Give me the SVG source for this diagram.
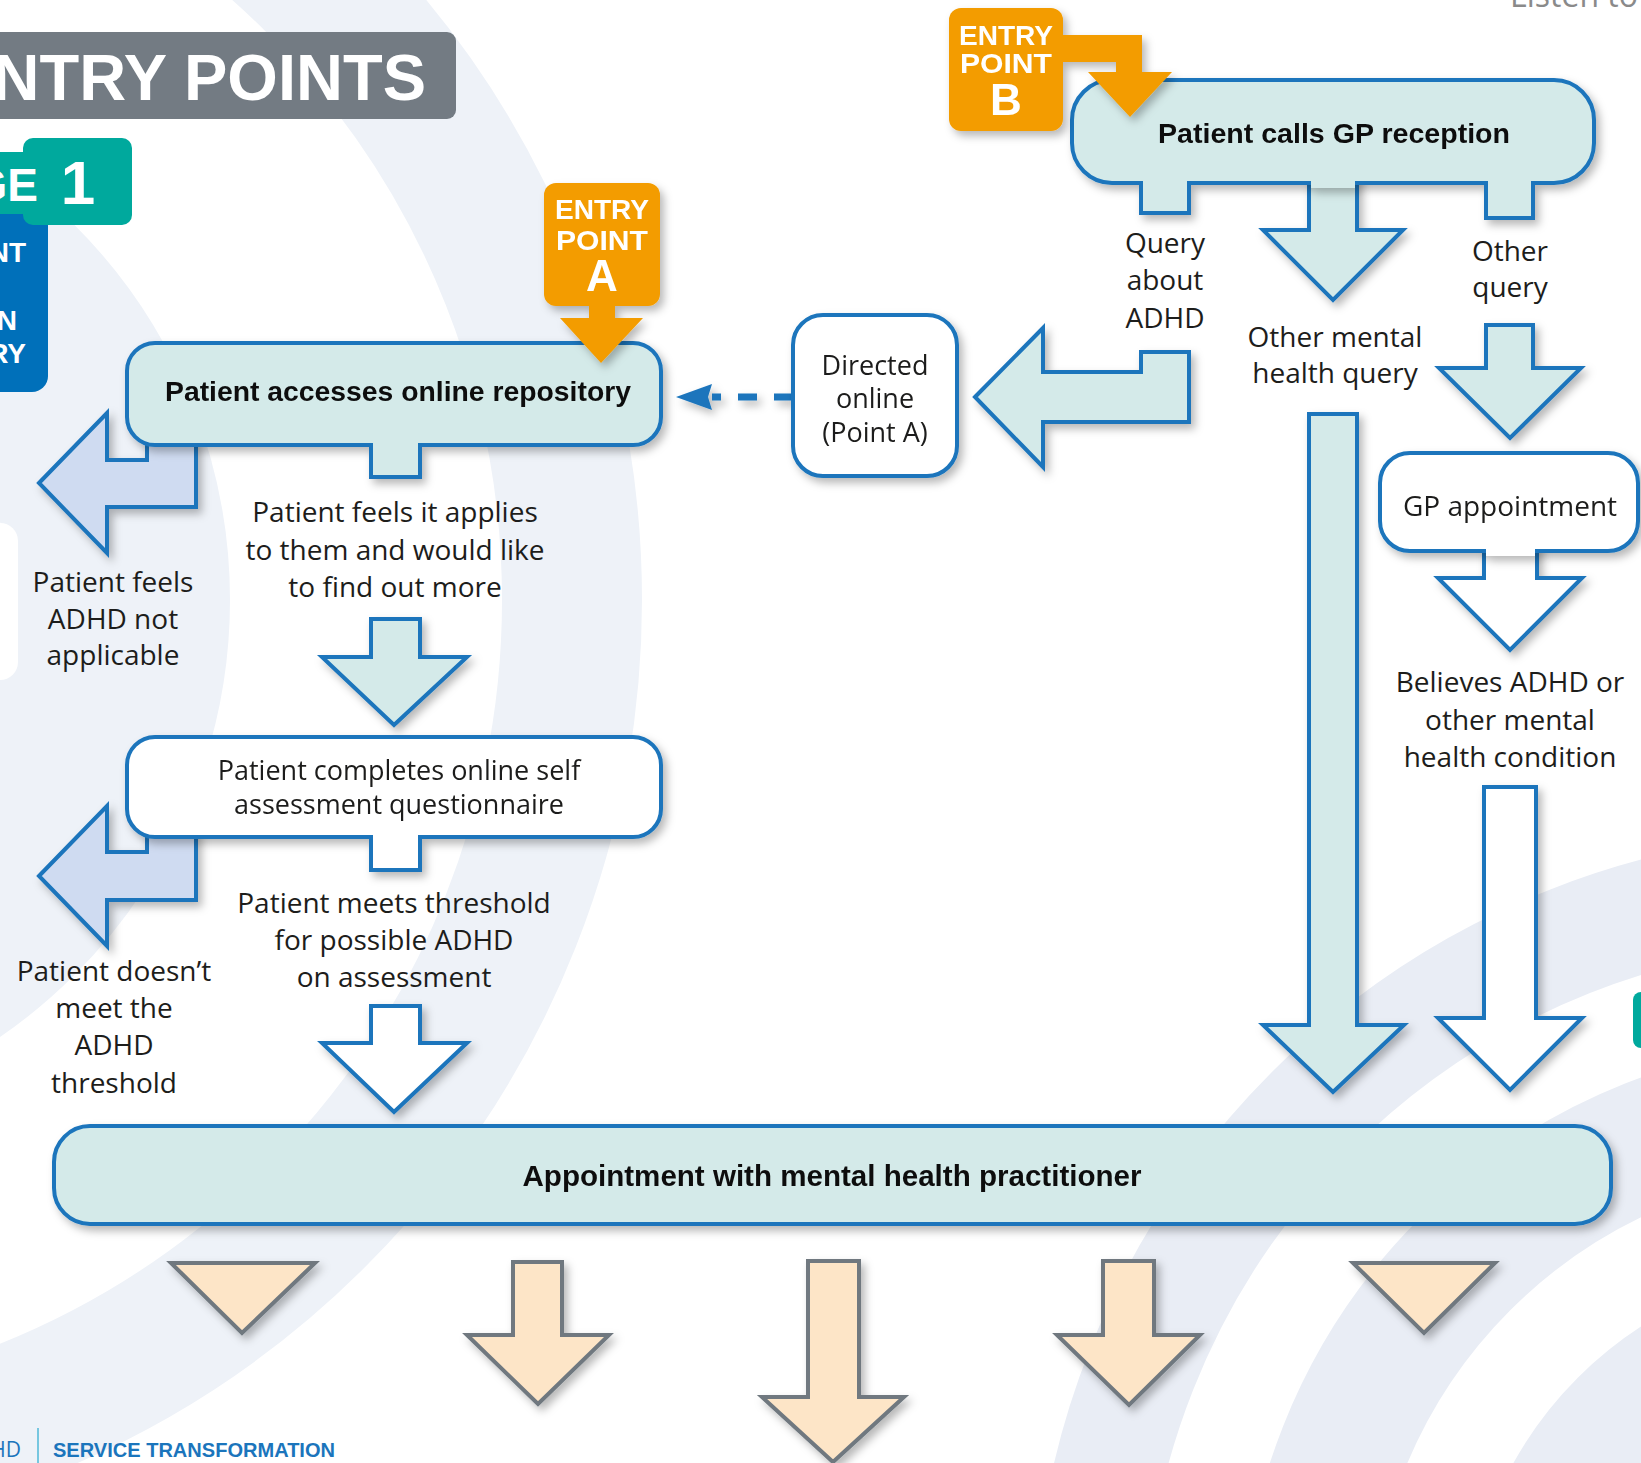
<svg xmlns="http://www.w3.org/2000/svg" width="1641" height="1463" viewBox="0 0 1641 1463">
<defs>
<filter id="sh" x="-20%" y="-20%" width="150%" height="150%">
<feDropShadow dx="4" dy="5" stdDeviation="4" flood-color="#000" flood-opacity="0.28"/>
</filter>
<style>
.lbl{font-family:"Open Sans","Liberation Sans",sans-serif;font-size:28px;fill:#1d1d1b;text-anchor:middle}
.hd{font-family:"Liberation Sans",Arial,sans-serif;font-weight:bold;font-size:28px;fill:#111;text-anchor:middle}
.bdg{font-family:"Liberation Sans",Arial,sans-serif;font-weight:bold;fill:#fff;text-anchor:middle}
.tealbox{fill:#d4eae9;stroke:#1b75bc;stroke-width:4}
.whitebox{fill:#fff;stroke:#1b75bc;stroke-width:4}
.teal{fill:#d4eae9}
.wht{fill:#fff}
.edge{fill:none;stroke:#1b75bc;stroke-width:4;stroke-linejoin:miter}
.arT{fill:#d4eae9;stroke:#1b75bc;stroke-width:4;stroke-linejoin:miter}
.arW{fill:#fff;stroke:#1b75bc;stroke-width:4;stroke-linejoin:miter}
.arL{fill:#cfdbf1;stroke:#1b75bc;stroke-width:4;stroke-linejoin:miter}
.arO{fill:#fde5c7;stroke:#6f787f;stroke-width:4;stroke-linejoin:miter}
.orange{fill:#f39c00}
</style>
</defs>
<rect width="1641" height="1463" fill="#fff"/>
<g id="background" fill="none">
<circle cx="-300" cy="600" r="872" stroke="#eef2f8" stroke-width="140"/>
<circle cx="-300" cy="600" r="420" stroke="#eef2f8" stroke-width="220"/>
<circle cx="1850" cy="1650" r="762" stroke="#e9edf5" stroke-width="111"/>
<circle cx="1850" cy="1650" r="545" stroke="#e9edf5" stroke-width="129"/>
<circle cx="1850" cy="1650" r="330" stroke="#e9edf5" stroke-width="110"/>
<rect x="-40" y="523" width="58" height="157" rx="18" fill="#fff"/>
</g>

<g id="page-header">
<rect x="-20" y="32" width="476" height="87" rx="9" fill="#737b83"/>
<text x="426" y="100" style="font-family:'Liberation Sans',Arial,sans-serif;font-weight:bold;font-size:65px;fill:#fff;text-anchor:end">ENTRY POINTS</text>
<rect x="-20" y="200" width="68" height="192" rx="16" fill="#0070ba"/>
<text x="26" y="262" class="bdg" style="font-size:28px;text-anchor:end">NT</text>
<text x="17" y="330" class="bdg" style="font-size:28px;text-anchor:end">N</text>
<text x="26" y="363" class="bdg" style="font-size:28px;text-anchor:end">RY</text>
<rect x="-20" y="152" width="60" height="62" fill="#00a99d"/>
<rect x="23" y="138" width="109" height="87" rx="10" fill="#00a99d"/>
<text x="38" y="201" class="bdg" style="font-size:46px;text-anchor:end">GE</text>
<text x="78" y="204" class="bdg" style="font-size:62px">1</text>
<text x="1510" y="7" style="font-family:'Open Sans',sans-serif;font-size:32px;fill:#8a8a8a">Listen to</text>
<rect x="1633" y="992" width="30" height="56" rx="8" fill="#00a99d"/>
</g>

<g id="connectors" filter="url(#sh)">
<polygon class="arL" points="39,483 107,413 107,460 147,460 147,440 196,440 196,507 107,507 107,553"/>
<polygon class="arL" points="39,876 107,806 107,852 147,852 147,832 196,832 196,900 107,900 107,946"/>
<polygon class="arT" points="371,619 420,619 420,657 467,657 394,725 322,657 371,657"/>
<polygon class="arW" points="371,1006 420,1006 420,1043 467,1043 394,1112 322,1043 371,1043"/>
<polygon class="arT" points="975,397 1043,328 1043,372 1141,372 1141,352 1189,352 1189,422 1043,422 1043,467"/>
<path d="M793,397 H712" fill="none" stroke="#1b75bc" stroke-width="7" stroke-dasharray="19 17"/>
<polygon points="676,397 712,384 708,397 712,410" fill="#1b75bc"/>
<polygon class="arT" points="1309,170 1357,170 1357,230 1403,230 1333,300 1263,230 1309,230"/>
<polygon class="arT" points="1486,325 1533,325 1533,368 1581,368 1510,438 1439,368 1486,368"/>
<polygon class="arT" points="1309,414 1357,414 1357,1025 1404,1025 1333,1092 1263,1025 1309,1025"/>
<polygon class="arW" points="1484,530 1537,530 1537,578 1582,578 1510,650 1438,578 1484,578"/>
<polygon class="arW" points="1484,787 1536,787 1536,1018 1582,1018 1510,1090 1438,1018 1484,1018"/>
<polygon class="arO" points="171,1263 315,1263 242,1333"/>
<polygon class="arO" points="513,1262 562,1262 562,1335 609,1335 538,1404 467,1335 513,1335"/>
<polygon class="arO" points="808,1261 859,1261 859,1397 904,1397 833,1462 762,1397 808,1397"/>
<polygon class="arO" points="1103,1261 1154,1261 1154,1335 1200,1335 1129,1405 1057,1335 1103,1335"/>
<polygon class="arO" points="1353,1263 1495,1263 1424,1333"/>
</g>

<g id="labels">
<text class="lbl"><tspan x="113" y="592">Patient feels</tspan><tspan x="113" y="629">ADHD not</tspan><tspan x="113" y="665">applicable</tspan></text>
<text class="lbl"><tspan x="395" y="522">Patient feels it applies</tspan><tspan x="395" y="560">to them and would like</tspan><tspan x="395" y="597">to find out more</tspan></text>
<text class="lbl"><tspan x="114" y="981">Patient doesn’t</tspan><tspan x="114" y="1018">meet the</tspan><tspan x="114" y="1055">ADHD</tspan><tspan x="114" y="1093">threshold</tspan></text>
<text class="lbl"><tspan x="394" y="913">Patient meets threshold</tspan><tspan x="394" y="950">for possible ADHD</tspan><tspan x="394" y="987">on assessment</tspan></text>
<text class="lbl"><tspan x="1165" y="253">Query</tspan><tspan x="1165" y="290">about</tspan><tspan x="1165" y="328">ADHD</tspan></text>
<text class="lbl"><tspan x="1510" y="261">Other</tspan><tspan x="1510" y="297">query</tspan></text>
<text class="lbl"><tspan x="1335" y="347">Other mental</tspan><tspan x="1335" y="383">health query</tspan></text>
<text class="lbl"><tspan x="1510" y="692">Believes ADHD or</tspan><tspan x="1510" y="730">other mental</tspan><tspan x="1510" y="767">health condition</tspan></text>
</g>

<g id="node-repository" filter="url(#sh)">
<rect class="tealbox" x="127" y="343" width="534" height="102" rx="28"/>
<rect class="teal" x="373" y="441" width="45" height="34"/>
<path class="edge" d="M371,443 V477 H420 V443"/>
<text class="hd" x="398" y="401" textLength="466" lengthAdjust="spacingAndGlyphs">Patient accesses online repository</text>
</g>

<g id="node-self-assessment" filter="url(#sh)">
<rect class="whitebox" x="127" y="737" width="534" height="100" rx="28"/>
<rect class="wht" x="373" y="833" width="45" height="35"/>
<path class="edge" d="M371,835 V870 H420 V835"/>
<text class="lbl" style="font-size:27px"><tspan x="399" y="780">Patient completes online self</tspan><tspan x="399" y="814">assessment questionnaire</tspan></text>
</g>

<g id="node-directed-online" filter="url(#sh)">
<rect class="whitebox" x="793" y="315" width="164" height="161" rx="30"/>
<text class="lbl" style="font-size:27px"><tspan x="875" y="375">Directed</tspan><tspan x="875" y="408">online</tspan><tspan x="875" y="442">(Point A)</tspan></text>
</g>

<g id="node-gp-reception" filter="url(#sh)">
<rect class="tealbox" x="1072" y="80" width="522" height="103" rx="40"/>
<rect class="teal" x="1143" y="179" width="44" height="32"/>
<path class="edge" d="M1141,181 V213 H1189 V181"/>
<rect class="teal" x="1488" y="179" width="43" height="37"/>
<path class="edge" d="M1486,181 V218 H1533 V181"/>
<rect class="teal" x="1311" y="178" width="44" height="10"/>
<text class="hd" x="1334" y="143" textLength="352" lengthAdjust="spacingAndGlyphs">Patient calls GP reception</text>
</g>

<g id="node-gp-appointment" filter="url(#sh)">
<rect class="whitebox" x="1380" y="453" width="258" height="98" rx="30"/>
<rect class="wht" x="1486" y="546" width="49" height="10"/>
<text class="lbl" x="1510" y="516">GP appointment</text>
</g>

<g id="node-appointment-mhp" filter="url(#sh)">
<rect class="tealbox" x="54" y="1126" width="1557" height="98" rx="36"/>
<text class="hd" x="832" y="1186" textLength="619" lengthAdjust="spacingAndGlyphs" style="font-size:29px">Appointment with mental health practitioner</text>
</g>

<g id="node-entry-a" filter="url(#sh)">
<rect class="orange" x="544" y="183" width="116" height="123" rx="12"/>
<polygon class="orange" points="589,300 615,300 615,318 643,318 601,363 560,318 589,318"/>
<text class="bdg" x="602" y="219" style="font-size:28px" textLength="94" lengthAdjust="spacingAndGlyphs">ENTRY</text>
<text class="bdg" x="602" y="250" style="font-size:28px" textLength="92" lengthAdjust="spacingAndGlyphs">POINT</text>
<text class="bdg" x="602" y="291" style="font-size:44px">A</text>
</g>

<g id="node-entry-b" filter="url(#sh)">
<rect class="orange" x="949" y="8" width="114" height="123" rx="12"/>
<polygon class="orange" points="1055,35 1142,35 1142,72 1172,72 1130,117 1088,72 1116,72 1116,62 1055,62"/>
<text class="bdg" x="1006" y="45" style="font-size:28px" textLength="94" lengthAdjust="spacingAndGlyphs">ENTRY</text>
<text class="bdg" x="1006" y="73" style="font-size:28px" textLength="92" lengthAdjust="spacingAndGlyphs">POINT</text>
<text class="bdg" x="1006" y="115" style="font-size:44px">B</text>
</g>

<g id="footer">
<text x="21" y="1457" style="font-family:'Open Sans',sans-serif;font-size:21px;fill:#1b75bc;text-anchor:end">HD</text>
<line x1="38" y1="1428" x2="38" y2="1463" stroke="#4fb8d8" stroke-width="1.5"/>
<text x="53" y="1457" style="font-family:'Liberation Sans',Arial,sans-serif;font-weight:bold;font-size:21px;fill:#1b75bc" textLength="282" lengthAdjust="spacingAndGlyphs">SERVICE TRANSFORMATION</text>
</g>
</svg>
